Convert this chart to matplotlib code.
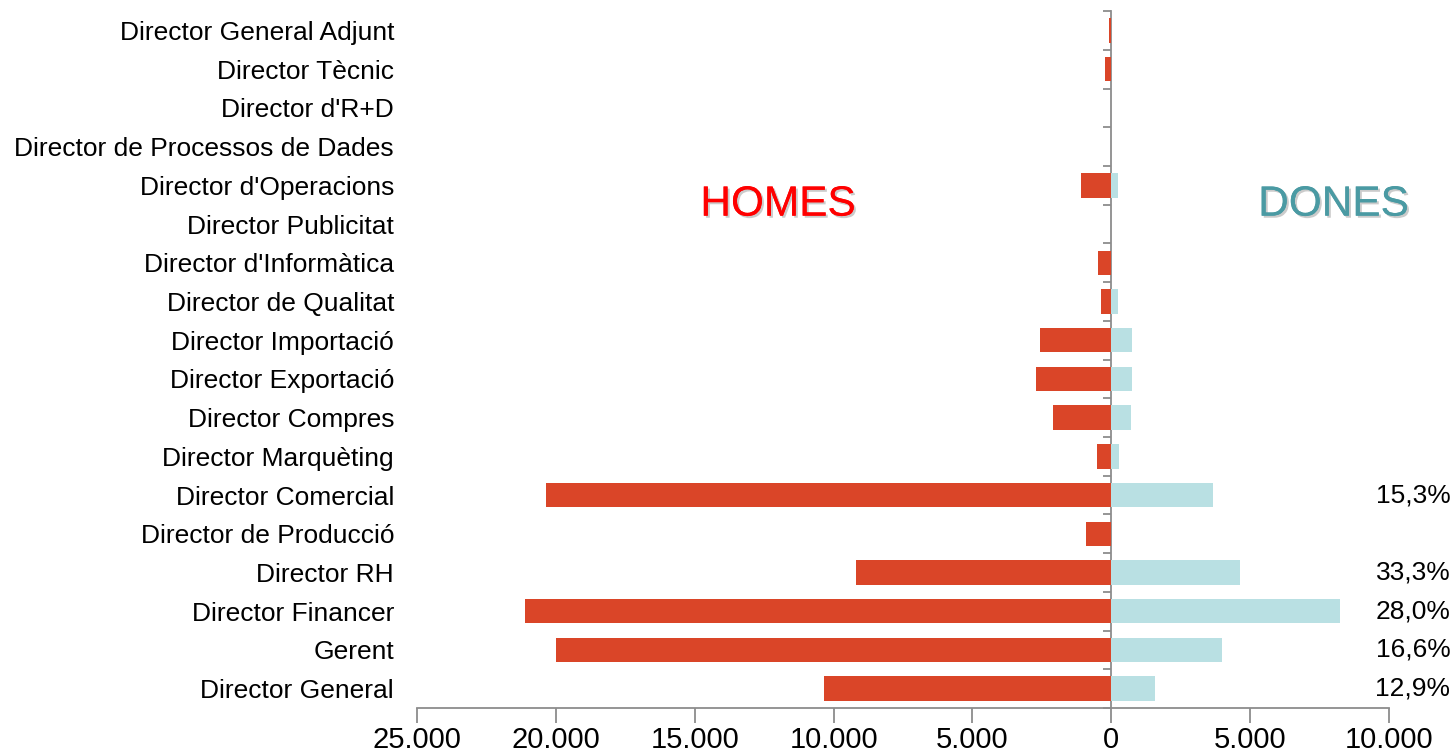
import numpy as np
import matplotlib
matplotlib.use("Agg")
import matplotlib.pyplot as plt
import matplotlib.patheffects as pe
from matplotlib import font_manager
from matplotlib.ticker import FuncFormatter

# dades (de dalt a baix)
categories = ["Director General Adjunt", "Director Tècnic", "Director d'R+D",
              "Director de Processos de Dades", "Director d'Operacions",
              "Director Publicitat", "Director d'Informàtica", "Director de Qualitat",
              "Director Importació", "Director Exportació", "Director Compres",
              "Director Marquèting", "Director Comercial", "Director de Producció",
              "Director RH", "Director Financer", "Gerent", "Director General"]
homes = [80, 220, 20, 0, 1080, 0, 470, 360, 2560, 2700, 2090, 500,
         20350, 900, 9200, 21100, 20000, 10350]
dones = [0, 0, 0, 0, 250, 0, 0, 250, 750, 750, 720, 290,
         3670, 0, 4650, 8250, 4000, 1580]
percent = ["", "", "", "", "", "", "", "", "", "", "", "",
           "15,3%", "", "33,3%", "28,0%", "16,6%", "12,9%"]
xticks = [-25000, -20000, -15000, -10000, -5000, 0, 5000, 10000]

names = {f.name for f in font_manager.fontManager.ttflist}
narrow = "Liberation Sans Narrow" if "Liberation Sans Narrow" in names else "Liberation Sans"
plt.rcParams["font.family"] = ["Liberation Sans", "DejaVu Sans"]

red = "#DA4528"
blue = "#B9E0E3"
gray = "#8C8C8C"

fig = plt.figure(figsize=(14.53, 7.55), dpi=100)
ax = fig.add_axes([0.287, 0.0623, 0.669, 0.923])

y = np.arange(len(categories))
ax.barh(y, -np.array(homes), height=0.63, color=red)
ax.barh(y, dones, height=0.63, color=blue)

ax.set_xlim(-25000, 10000)
ax.set_ylim(len(categories) - 0.5, -0.5)

ax.set_xticks(xticks)
ax.xaxis.set_major_formatter(FuncFormatter(lambda v, p: f"{abs(int(v)):,}".replace(",", ".")))
for lab in ax.get_xticklabels():
    lab.set_fontfamily(narrow)
    lab.set_fontsize(25 if narrow != "Liberation Sans" else 21)
ax.tick_params(axis="x", direction="out", length=11, width=1.3, color=gray, pad=2)

ax.set_yticks(y)
ax.set_yticklabels(categories, fontsize=19)
ax.tick_params(axis="y", length=0, pad=16.5)

for s in ["top", "right", "left"]:
    ax.spines[s].set_visible(False)
ax.spines["bottom"].set_color(gray)
ax.spines["bottom"].set_linewidth(1.3)

# eix vertical al zero
sec = ax.secondary_yaxis(0, transform=ax.transData)
sec.set_yticks(np.arange(len(categories) + 1) - 0.5)
sec.set_yticklabels([])
sec.tick_params(direction="out", length=6, width=1.3, color=gray)
sec.spines["left"].set_color(gray)
sec.spines["left"].set_linewidth(1.3)

shadow = [pe.withSimplePatchShadow(offset=(1.5, -1.5), shadow_rgbFace="#999999", alpha=0.5), pe.Normal()]
for yi, txt in zip(y, percent):
    if txt:
        ax.text(1.063, yi, txt, transform=ax.get_yaxis_transform(), ha="right",
                va="center", fontsize=19)

ax.text(-12000, 4.5, "HOMES", color="#FF0000", fontsize=30.5, ha="center", va="center",
        path_effects=shadow)
ax.text(8000, 4.5, "DONES", color="#4A9AA3", fontsize=30.5, ha="center", va="center",
        path_effects=shadow)

fig.savefig("out.png", dpi=100)
